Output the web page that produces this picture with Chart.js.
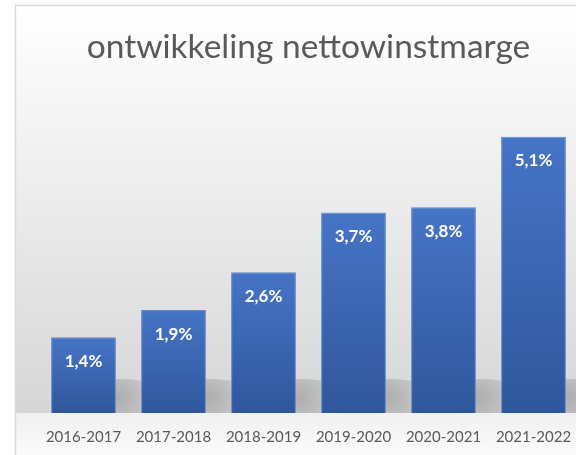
<!DOCTYPE html>
<html>
<head>
<meta charset="utf-8">
<script src="https://cdn.jsdelivr.net/npm/chart.js@4/dist/chart.umd.min.js"></script>
<style>
  html, body { margin: 0; padding: 0; background: #ffffff; overflow: hidden; }
  #wrap { position: absolute; left: 0; top: 0; width: 600px; height: 455px; overflow: hidden; }
</style>
</head>
<body>
<div id="wrap"><canvas id="chart" width="600" height="463"></canvas></div>
<script>
// chart data
const categories = ['2016-2017', '2017-2018', '2018-2019', '2019-2020', '2020-2021', '2021-2022'];
const margins = [1.4, 1.9, 2.6, 3.7, 3.8, 5.1];
const chartTitle = 'ontwikkeling nettowinstmarge';

function formatPct(v) {
    return v.toFixed(1).replace('.', ',') + '%';
}

// frame + soft grey backdrop behind the bars
const backdrop = {
    id: 'backdrop',
    beforeDraw: function(chart) {
        const ctx = chart.ctx;
        const area = chart.chartArea;
        ctx.save();
        ctx.fillStyle = '#ffffff';
        ctx.fillRect(0, 0, chart.width, chart.height);
        const g = ctx.createLinearGradient(0, 6, 0, area.bottom);
        g.addColorStop(0, '#ffffff');
        g.addColorStop(0.35, '#f1f1f1');
        g.addColorStop(1, '#d6d6d6');
        ctx.fillStyle = g;
        ctx.fillRect(16, 6, chart.width, area.bottom - 6);
        const g2 = ctx.createLinearGradient(0, area.bottom, 0, 455);
        g2.addColorStop(0, '#f0f0f0');
        g2.addColorStop(1, '#fbfbfb');
        ctx.fillStyle = g2;
        ctx.fillRect(16, area.bottom, chart.width, chart.height - area.bottom);
        ctx.strokeStyle = '#d9d9d9';
        ctx.lineWidth = 1.5;
        ctx.beginPath();
        ctx.moveTo(15.5, chart.height + 2);
        ctx.lineTo(15.5, 5.5);
        ctx.lineTo(chart.width + 2, 5.5);
        ctx.stroke();
        ctx.restore();
    },
    beforeDatasetsDraw: function(chart) {
        // shadow smudges at the foot of each bar
        const ctx = chart.ctx;
        const meta = chart.getDatasetMeta(0);
        ctx.save();
        ctx.beginPath();
        ctx.rect(16, 6, chart.width, chart.chartArea.bottom - 6);
        ctx.clip();
        meta.data.forEach(function(bar) {
            const cx = bar.x + bar.width * 0.55;
            const cy = bar.base - 16;
            const rg = ctx.createRadialGradient(cx, cy, 2, cx, cy, 50);
            rg.addColorStop(0, 'rgba(100,100,100,0.35)');
            rg.addColorStop(1, 'rgba(100,100,100,0)');
            ctx.fillStyle = rg;
            ctx.beginPath();
            ctx.ellipse(cx, cy, 50, 18, 0, 0, Math.PI * 2);
            ctx.fill();
        });
        ctx.restore();
    }
};

// value labels inside the top of each bar
const valueLabels = {
    id: 'valueLabels',
    afterDatasetsDraw: function(chart) {
        const ctx = chart.ctx;
        const meta = chart.getDatasetMeta(0);
        ctx.save();
        ctx.font = 'bold 17px Lato, "Open Sans", sans-serif';
        ctx.fillStyle = '#ffffff';
        ctx.textAlign = 'center';
        ctx.textBaseline = 'middle';
        meta.data.forEach(function(bar, i) {
            ctx.fillText(formatPct(margins[i]), bar.x, bar.y + 24);
        });
        ctx.restore();
    }
};

const ctx = document.getElementById('chart').getContext('2d');
new Chart(ctx, {
    type: 'bar',
    data: {
        labels: categories,
        datasets: [{
            data: margins,
            backgroundColor: function(context) {
                const chart = context.chart;
                if (!chart.chartArea) return '#4472c4';
                const yScale = chart.scales.y;
                const top = yScale.getPixelForValue(context.raw);
                const base = yScale.getPixelForValue(0);
                const g = chart.ctx.createLinearGradient(0, top, 0, base);
                g.addColorStop(0, '#4674c6');
                g.addColorStop(1, '#2f579c');
                return g;
            },
            borderColor: '#5b87d2',
            borderWidth: 1,
            barPercentage: 0.72,
            categoryPercentage: 1
        }]
    },
    options: {
        responsive: false,
        animation: false,
        devicePixelRatio: 1,
        layout: {
            padding: { left: 38.5, right: 21.5, top: 0, bottom: 2 }
        },
        plugins: {
            legend: { display: false },
            tooltip: { enabled: false },
            title: {
                display: true,
                text: chartTitle,
                color: '#595959',
                font: { family: 'Lato, "Open Sans", sans-serif', size: 33.5, weight: 'normal' },
                padding: { top: 27, bottom: 20.8 }
            }
        },
        scales: {
            x: {
                grid: { display: false, drawTicks: false },
                border: { display: false },
                ticks: {
                    color: '#595959',
                    padding: 15,
                    font: { family: 'Lato, "Open Sans", sans-serif', size: 15 }
                }
            },
            y: {
                display: false,
                min: 0,
                max: 6
            }
        }
    },
    plugins: [backdrop, valueLabels]
});
</script>
</body>
</html>
